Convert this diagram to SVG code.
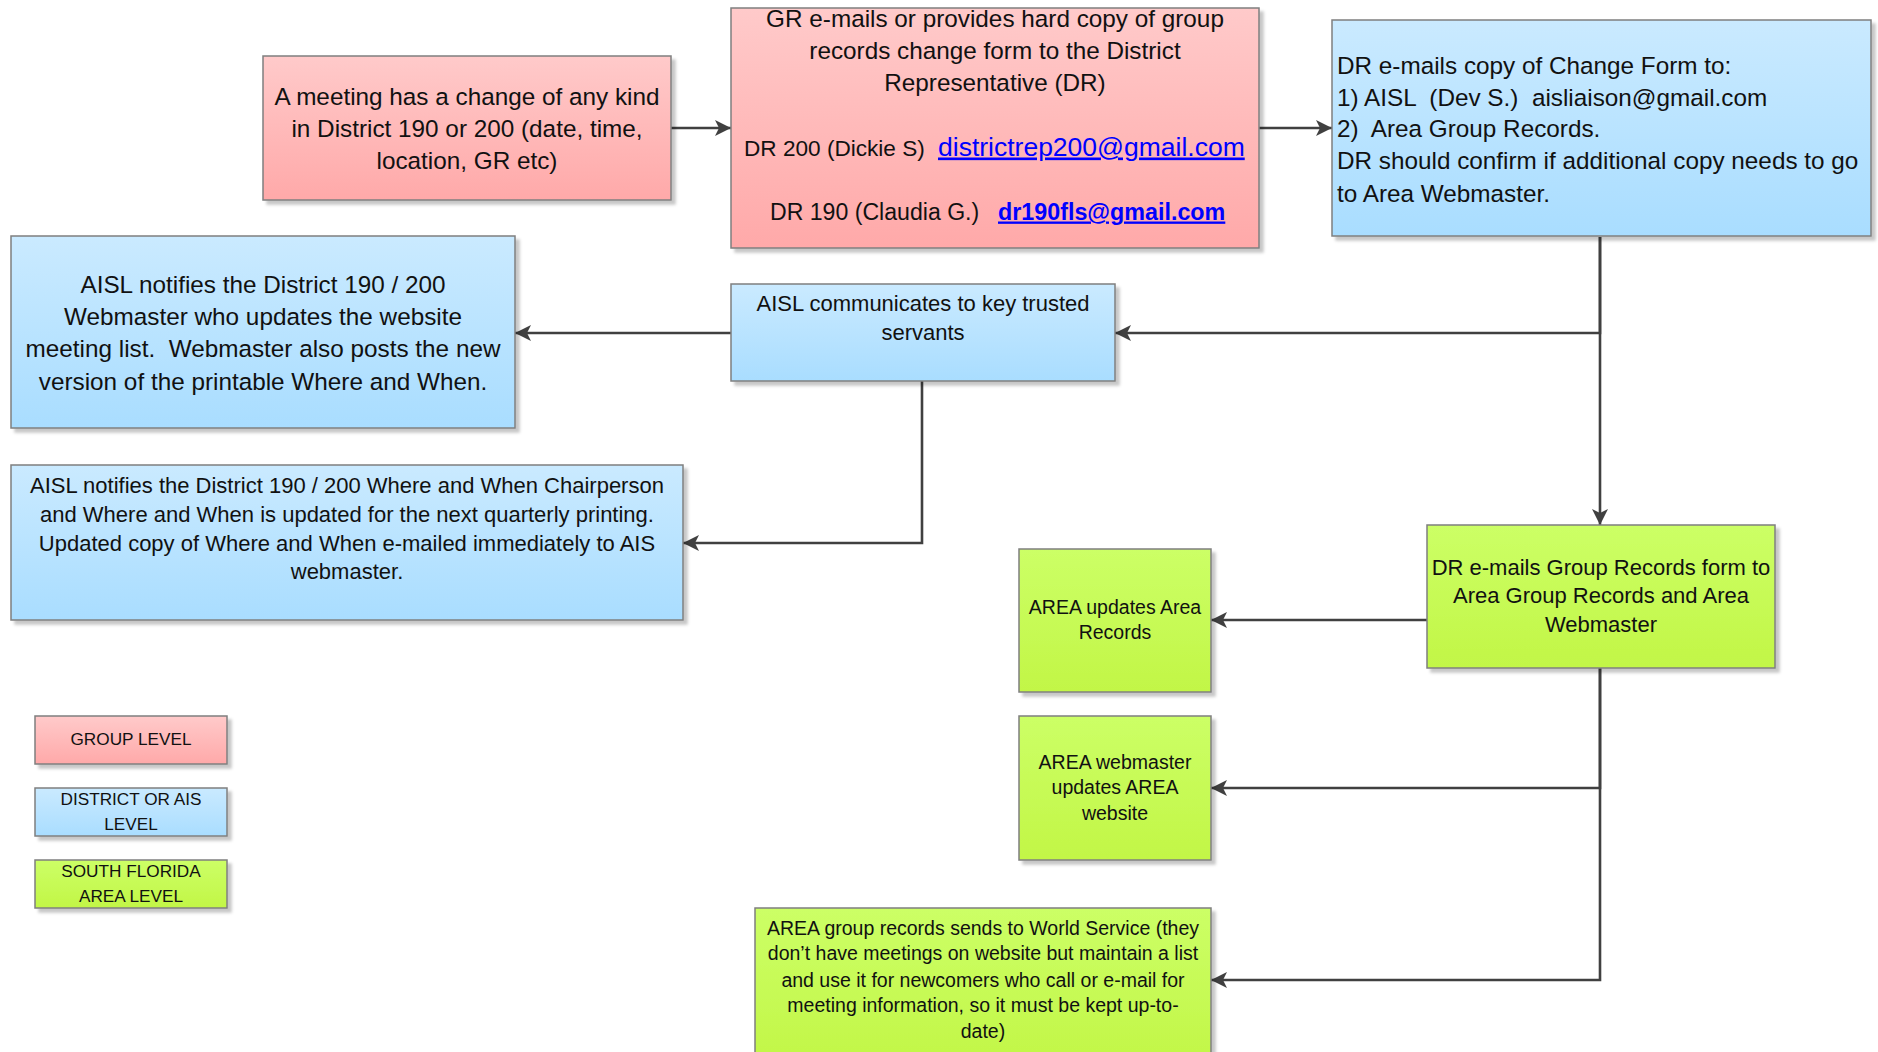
<svg xmlns="http://www.w3.org/2000/svg" width="1878" height="1052" viewBox="0 0 1878 1052">
<defs>
  <linearGradient id="gPink" x1="0" y1="0" x2="0" y2="1">
    <stop offset="0" stop-color="#FFCACA"/>
    <stop offset="1" stop-color="#FFA9A9"/>
  </linearGradient>
  <linearGradient id="gBlue" x1="0" y1="0" x2="0" y2="1">
    <stop offset="0" stop-color="#CAEAFF"/>
    <stop offset="1" stop-color="#A9DDFF"/>
  </linearGradient>
  <linearGradient id="gGreen" x1="0" y1="0" x2="0" y2="1">
    <stop offset="0" stop-color="#CCFF66"/>
    <stop offset="1" stop-color="#C2F646"/>
  </linearGradient>
  <filter id="shadow" x="-5%" y="-5%" width="115%" height="120%">
    <feDropShadow dx="4" dy="4" stdDeviation="1.5" flood-color="#000" flood-opacity="0.22"/>
  </filter>
  <marker id="arrow" markerUnits="userSpaceOnUse" markerWidth="18" markerHeight="16" refX="16" refY="8" orient="auto">
    <path d="M0,0 L16,8 L0,16 L4,8 Z" fill="#404040"/>
  </marker>
</defs>
<style>
  .box { stroke: #7F7F7F; stroke-width: 1.5; filter: url(#shadow); }
  .pink { fill: url(#gPink); }
  .blue { fill: url(#gBlue); }
  .green { fill: url(#gGreen); }
  text { font-family: "Liberation Sans", Arial, sans-serif; fill: #111; }
  .c { text-anchor: middle; }
  .f24 { font-size: 24.3px; }
  .f22 { font-size: 22px; }
  .f19 { font-size: 19.5px; }
  .f17 { font-size: 17.2px; }
  .link { fill: #0000FF; text-decoration: underline; }
  .conn { fill: none; stroke: #404040; stroke-width: 2.6; marker-end: url(#arrow); }
</style>
<rect width="1878" height="1052" fill="#FFFFFF"/>

<g id="connectors">
  <path class="conn" d="M671,128 L731,128"/>
  <path class="conn" d="M1259,128 L1332,128"/>
  <path class="conn" d="M1600,237 L1600,333 L1115,333"/>
  <path class="conn" d="M1600,237 L1600,525"/>
  <path class="conn" d="M731,333 L515,333"/>
  <path class="conn" d="M922,381 L922,543 L683,543"/>
  <path class="conn" d="M1427,620 L1211,620"/>
  <path class="conn" d="M1600,668 L1600,788 L1211,788"/>
  <path class="conn" d="M1600,668 L1600,980 L1211,980"/>
</g>

<g id="meeting-change">
  <rect class="box pink" x="263" y="56" width="408" height="144"/>
  <text class="c f24" x="467"><tspan x="467" y="104.5">A meeting has a change of any kind</tspan><tspan x="467" y="136.5">in District 190 or 200 (date, time,</tspan><tspan x="467" y="168.5">location, GR etc)</tspan></text>
</g>

<g id="gr-emails">
  <rect class="box pink" x="731" y="8" width="528" height="240"/>
  <text class="c f24" x="995"><tspan x="995" y="26.5">GR e-mails or provides hard copy of group</tspan><tspan x="995" y="58.5">records change form to the District</tspan><tspan x="995" y="90.5">Representative (DR)</tspan></text>
  <text x="744" y="155.5" style="font-size:22.6px">DR 200 (Dickie S)</text>
  <text class="link" x="938" y="155.5" style="font-size:26.5px">districtrep200@gmail.com</text>
  <text x="770" y="219.5" style="font-size:23.1px">DR 190 (Claudia G.)</text>
  <text class="link" x="998" y="219.5" style="font-size:23.3px;font-weight:bold">dr190fls@gmail.com</text>
</g>

<g id="dr-emails-change-form">
  <rect class="box blue" x="1332" y="20" width="539" height="216"/>
  <text class="f24" x="1337"><tspan x="1337" y="73.5">DR e-mails copy of Change Form to:</tspan><tspan x="1337" y="105.5" xml:space="preserve">1) AISL  (Dev S.)  aisliaison@gmail.com</tspan><tspan x="1337" y="136.5" xml:space="preserve">2)  Area Group Records.</tspan><tspan x="1337" y="168.5">DR should confirm if additional copy needs to go</tspan><tspan x="1337" y="201.5">to Area Webmaster.</tspan></text>
</g>

<g id="aisl-webmaster">
  <rect class="box blue" x="11" y="236" width="504" height="192"/>
  <text class="c f24" x="263"><tspan x="263" y="292.5">AISL notifies the District 190 / 200</tspan><tspan x="263" y="324.5">Webmaster who updates the website</tspan><tspan x="263" y="357" xml:space="preserve">meeting list.  Webmaster also posts the new</tspan><tspan x="263" y="389.5">version of the printable Where and When.</tspan></text>
</g>

<g id="aisl-communicates">
  <rect class="box blue" x="731" y="284" width="384" height="97"/>
  <text class="c f22" x="923"><tspan x="923" y="310.7">AISL communicates to key trusted</tspan><tspan x="923" y="339.7">servants</tspan></text>
</g>

<g id="aisl-where-when">
  <rect class="box blue" x="11" y="465" width="672" height="155"/>
  <text class="c f22" x="347"><tspan x="347" y="492.7">AISL notifies the District 190 / 200 Where and When Chairperson</tspan><tspan x="347" y="521.7">and Where and When is updated for the next quarterly printing.</tspan><tspan x="347" y="550.7">Updated copy of Where and When e-mailed immediately to AIS</tspan><tspan x="347" y="578.7">webmaster.</tspan></text>
</g>

<g id="dr-emails-group-records">
  <rect class="box green" x="1427" y="525" width="348" height="143"/>
  <text class="c f22" x="1601"><tspan x="1601" y="574.7">DR e-mails Group Records form to</tspan><tspan x="1601" y="602.7">Area Group Records and Area</tspan><tspan x="1601" y="631.7">Webmaster</tspan></text>
</g>

<g id="area-updates-records">
  <rect class="box green" x="1019" y="549" width="192" height="143"/>
  <text class="c f19" x="1115"><tspan x="1115" y="613.8">AREA updates Area</tspan><tspan x="1115" y="638.8">Records</tspan></text>
</g>

<g id="area-webmaster">
  <rect class="box green" x="1019" y="716" width="192" height="144"/>
  <text class="c f19" x="1115"><tspan x="1115" y="768.8">AREA webmaster</tspan><tspan x="1115" y="793.8">updates AREA</tspan><tspan x="1115" y="819.8">website</tspan></text>
</g>

<g id="area-world-service">
  <rect class="box green" x="755" y="908" width="456" height="160"/>
  <text class="c f19" x="983"><tspan x="983" y="934.8">AREA group records sends to World Service (they</tspan><tspan x="983" y="960.3">don’t have meetings on website but maintain a list</tspan><tspan x="983" y="986.8">and use it for newcomers who call or e-mail for</tspan><tspan x="983" y="1011.8">meeting information, so it must be kept up-to-</tspan><tspan x="983" y="1037.8">date)</tspan></text>
</g>

<g id="legend-group">
  <rect class="box pink" x="35" y="716" width="192" height="48"/>
  <text class="c f17" x="131" y="745">GROUP LEVEL</text>
</g>
<g id="legend-district">
  <rect class="box blue" x="35" y="788" width="192" height="48"/>
  <text class="c f17" x="131"><tspan x="131" y="805">DISTRICT OR AIS</tspan><tspan x="131" y="830">LEVEL</tspan></text>
</g>
<g id="legend-area">
  <rect class="box green" x="35" y="860" width="192" height="48"/>
  <text class="c f17" x="131"><tspan x="131" y="877">SOUTH FLORIDA</tspan><tspan x="131" y="902">AREA LEVEL</tspan></text>
</g>
</svg>
